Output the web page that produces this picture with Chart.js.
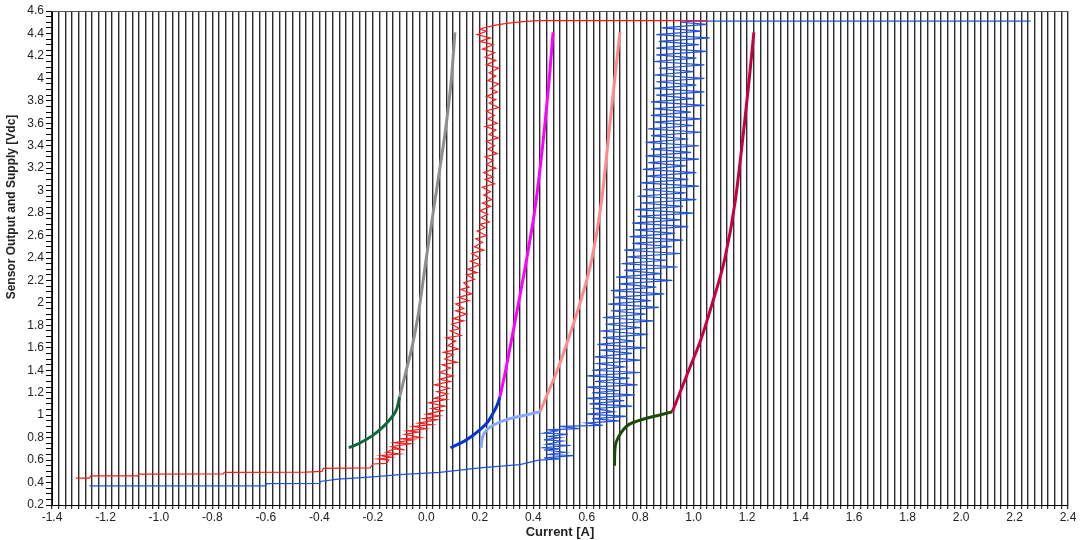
<!DOCTYPE html>
<html><head><meta charset="utf-8">
<script src="https://cdn.jsdelivr.net/npm/chart.js@4.4.1/dist/chart.umd.min.js"></script>
<style>html,body{margin:0;padding:0;background:#fff}#wrap{width:1081px;height:540px}</style>
</head><body><div id="wrap"><canvas id="c" width="1081" height="540"></canvas></div>
<script>
// X axis tick labels (Current [A]) and Y axis tick labels
const xTickLabels = ['-1.4','-1.2','-1.0','-0.8','-0.6','-0.4','-0.2','0.0','0.2','0.4','0.6','0.8','1.0','1.2','1.4','1.6','1.8','2.0','2.2','2.4'];
const yTickLabels = ['0.2','0.4','0.6','0.8','1','1.2','1.4','1.6','1.8','2','2.2','2.4','2.6','2.8','3','3.2','3.4','3.6','3.8','4','4.2','4.4','4.6'];
const xTitle = 'Current [A]';
const yTitle = 'Sensor Output and Supply [Vdc]';

// Long red trace [current, voltage]
const redTrace = [[-1.31,0.44],[-1.26,0.44],[-1.255,0.46],[-1.08,0.46],[-1.075,0.475],[-0.76,0.478],[-0.755,0.49],[-0.45,0.492],[-0.39,0.5],[-0.385,0.527],[-0.21,0.53],[-0.2,0.565],[-0.15,0.57],
[-0.14,0.6],[-0.18,0.61],[-0.13,0.625],[-0.17,0.64],[-0.1,0.655],[-0.15,0.67],[-0.12,0.7],[-0.08,0.69],[-0.13,0.72],[-0.06,0.745],[-0.12,0.755],[-0.05,0.78],[-0.1,0.79],[-0.02,0.8],[-0.08,0.83],[-0.03,0.85],[-0.07,0.86],[0.0,0.88],[-0.05,0.9],[0.02,0.915],[-0.03,0.93],[0.04,0.96],[-0.01,0.97],[0.05,0.995],[0.0,1.01],[0.06,1.04],[0.02,1.06],[0.07,1.08],[0.01,1.11],[0.075,1.14],[0.03,1.15],[0.08,1.19],[0.04,1.21],[0.085,1.24],[0.03,1.27],[0.09,1.3],[0.05,1.32],[0.1,1.35],[0.05,1.38],[0.09,1.42],[0.06,1.45],[0.115,1.47],[0.07,1.5],[0.1,1.54],[0.065,1.56],[0.12,1.59],[0.08,1.62],[0.11,1.66],[0.075,1.69],[0.13,1.71],[0.09,1.75],[0.125,1.77],[0.095,1.81],[0.14,1.84],[0.1,1.86],[0.15,1.9],[0.11,1.93],[0.14,1.95],[0.11,1.99],[0.16,2.02],[0.12,2.05],[0.17,2.08],[0.13,2.12],[0.16,2.14],[0.14,2.18],[0.18,2.21],[0.15,2.25],[0.19,2.27],[0.155,2.3],[0.2,2.34],[0.165,2.37],[0.2,2.4],[0.17,2.44],[0.215,2.47],[0.18,2.5],[0.21,2.54],[0.185,2.57],[0.225,2.6],[0.19,2.64],[0.22,2.67],[0.2,2.7],[0.235,2.72],[0.205,2.76],[0.23,2.79],[0.2,2.82],[0.24,2.86],[0.21,2.89],[0.245,2.92],[0.215,2.96],[0.24,2.99],[0.21,3.03],[0.255,3.06],[0.22,3.1],[0.25,3.12],[0.215,3.16],[0.26,3.2],[0.225,3.23],[0.25,3.27],[0.22,3.3],[0.265,3.33],[0.23,3.37],[0.255,3.4],[0.225,3.44],[0.27,3.47],[0.235,3.5],[0.26,3.54],[0.22,3.57],[0.265,3.6],[0.23,3.64],[0.255,3.67],[0.225,3.71],[0.27,3.74],[0.235,3.78],[0.26,3.81],[0.225,3.84],[0.265,3.88],[0.24,3.91],[0.27,3.95],[0.23,3.98],[0.26,4.02],[0.235,4.05],[0.27,4.09],[0.225,4.12],[0.26,4.16],[0.22,4.19],[0.255,4.23],[0.21,4.26],[0.25,4.3],[0.2,4.33],[0.24,4.36],[0.19,4.39],[0.225,4.42],[0.2,4.44],[0.25,4.47],[0.3,4.49],[0.36,4.505],[0.42,4.515],[1.05,4.515]];

// Long blue trace [current, voltage]
const blueTrace = [[-1.26,0.37],[-0.6,0.37],[-0.598,0.39],[-0.4,0.392],[-0.398,0.41],[-0.33,0.43],[-0.2,0.45],[-0.1,0.47],[0.05,0.49],[0.2,0.53],[0.35,0.56],[0.42,0.6],
[0.5,0.61],[0.44,0.62],[0.55,0.64],[0.45,0.65],[0.52,0.67],[0.44,0.69],[0.5,0.7],[0.43,0.71],[0.54,0.73],[0.45,0.74],[0.51,0.77],[0.44,0.78],[0.5,0.8],[0.45,0.81],[0.53,0.83],[0.44,0.84],[0.49,0.86],[0.45,0.87],[0.57,0.88],[0.5,0.9],[0.66,0.91],
[0.6,0.93],[0.72,0.95],[0.62,0.97],[0.75,0.99],[0.6,1.01],[0.7,1.03],[0.63,1.06],[0.77,1.08],[0.61,1.1],[0.74,1.13],[0.6,1.15],[0.78,1.18],[0.62,1.2],[0.72,1.22],[0.6,1.25],[0.79,1.27],[0.63,1.3],[0.76,1.33],[0.6,1.35],[0.8,1.38],[0.62,1.4],[0.74,1.43],[0.64,1.46],[0.8,1.49],[0.63,1.52],[0.77,1.55],[0.65,1.58],[0.82,1.6],[0.64,1.63],[0.78,1.66],[0.66,1.69],[0.83,1.72],[0.65,1.75],[0.8,1.78],[0.67,1.81],[0.85,1.84],[0.66,1.87],[0.82,1.9],[0.69,1.93],[0.87,1.96],[0.68,1.99],[0.84,2.02],[0.7,2.05],[0.89,2.08],[0.69,2.11],[0.86,2.14],[0.72,2.17],[0.92,2.2],[0.71,2.23],[0.88,2.26],[0.74,2.29],[0.94,2.32],[0.73,2.35],[0.9,2.38],[0.75,2.41],[0.95,2.44],[0.74,2.47],[0.92,2.5],[0.77,2.53],[0.96,2.56],[0.76,2.59],[0.93,2.62],[0.78,2.65],[0.98,2.68],[0.77,2.71],[0.95,2.74],[0.79,2.77],[1.0,2.8],[0.78,2.83],[0.96,2.86],[0.8,2.89],[1.01,2.92],[0.79,2.95],[0.97,2.98],[0.81,3.01],[1.02,3.04],[0.8,3.07],[0.98,3.1],[0.82,3.13],[1.01,3.16],[0.81,3.19],[0.97,3.22],[0.83,3.25],[1.02,3.28],[0.82,3.31],[0.99,3.34],[0.84,3.37],[1.02,3.4],[0.82,3.43],[0.98,3.46],[0.84,3.49],[1.03,3.52],[0.83,3.55],[1.0,3.58],[0.85,3.61],[1.03,3.64],[0.84,3.67],[0.99,3.7],[0.85,3.73],[1.04,3.76],[0.84,3.79],[1.0,3.82],[0.86,3.85],[1.04,3.88],[0.85,3.91],[1.01,3.94],[0.86,3.97],[1.04,4.0],[0.85,4.03],[1.0,4.06],[0.87,4.09],[1.04,4.12],[0.85,4.15],[1.01,4.18],[0.86,4.21],[1.05,4.24],[0.86,4.27],[1.02,4.3],[0.87,4.33],[1.06,4.36],[0.86,4.39],[1.03,4.42],[0.88,4.45],[1.05,4.48],[0.95,4.5],[1.0,4.51],[2.26,4.51]];

// Short smooth sensor curves [current, voltage]
const greenLow1 = [[-0.29,0.71],[-0.25,0.75],[-0.2,0.82],[-0.16,0.9],[-0.13,0.98],[-0.11,1.06],[-0.1,1.16]];
const grayUp = [[-0.1,1.16],[-0.075,1.4],[-0.054,1.6],[-0.03,1.9],[0.0,2.4],[0.038,3.0],[0.075,3.6],[0.094,4.0],[0.107,4.41]];
const blueLow = [[0.09,0.71],[0.15,0.78],[0.2,0.87],[0.23,0.94],[0.25,1.02],[0.265,1.09],[0.275,1.16]];
const magentaUp = [[0.275,1.16],[0.295,1.38],[0.313,1.6],[0.345,2.0],[0.376,2.4],[0.41,2.9],[0.444,3.6],[0.46,4.0],[0.474,4.41]];
const lightBlueLow = [[0.205,0.71],[0.208,0.78],[0.22,0.85],[0.25,0.91],[0.3,0.96],[0.36,0.995],[0.425,1.03]];
const salmonUp = [[0.425,1.03],[0.455,1.2],[0.49,1.4],[0.52,1.6],[0.575,2.0],[0.62,2.4],[0.655,2.9],[0.687,3.6],[0.705,4.0],[0.724,4.41]];
const greenLow2 = [[0.704,0.55],[0.705,0.68],[0.71,0.76],[0.73,0.85],[0.76,0.92],[0.82,0.97],[0.87,1.0],[0.92,1.03]];
const crimsonUp = [[0.92,1.03],[0.955,1.24],[0.99,1.45],[1.025,1.66],[1.07,2.0],[1.117,2.4],[1.155,2.9],[1.19,3.6],[1.208,4.0],[1.225,4.41]];

const toPts = a => a.map(p => ({x:p[0], y:p[1]}));
function smooth(data, color){ return {data: toPts(data), borderColor: color, borderWidth: 3, cubicInterpolationMode: 'monotone', pointRadius: 0, showLine: true, fill: false}; }
function jag(data, color){ return {data: toPts(data), borderColor: color, borderWidth: 1.2, tension: 0, pointRadius: 0, showLine: true, fill: false}; }

const frame = {id:'frame', afterDraw(ch){
  const a=ch.chartArea,c=ch.ctx;c.save();
  c.strokeStyle='#555';c.lineWidth=1;c.beginPath();c.moveTo(a.left,a.top+0.5);c.lineTo(a.right,a.top+0.5);c.stroke();
  c.fillStyle='#222';c.font='bold 12px "Liberation Sans"';c.textAlign='center';c.textBaseline='middle';
  c.translate(12,207);c.rotate(-Math.PI/2);c.fillText(yTitle,0,0);
  c.restore();}};

const isMult = (v, s) => Math.abs(v/s - Math.round(v/s)) < 1e-6;

new Chart(document.getElementById('c'), {
  type: 'scatter',
  data: { datasets: [
    smooth(greenLow1,'#0a6a38'), smooth(grayUp,'#8f8f8f'), smooth(blueLow,'#0535d0'), smooth(magentaUp,'#ff00ff'),
    smooth(lightBlueLow,'#86a8ff'), smooth(salmonUp,'#ff8a8a'), Object.assign(smooth(greenLow2,'#1d4a06'),{cubicInterpolationMode:'default',tension:0.35}), smooth(crimsonUp,'#c8003e'),
    jag(redTrace,'#ff1a1a'), jag(blueTrace,'#1f52dc')
  ]},
  options: {
    responsive: false, animation: false,
    layout: { padding: { top: 11, right: 13, left: 0, bottom: 0 } },
    plugins: { legend: { display: false }, tooltip: { enabled: false } },
    scales: {
      x: {
        type: 'linear', min: -1.4, max: 2.4,
        afterFit: s => { s.height = 35; },
        border: { color: '#000', width: 1 },
        grid: { color: 'rgba(20,20,20,0.9)', lineWidth: 1.4, tickLength: 4, tickColor: '#000', tickWidth: 1, drawTicks: true },
        ticks: { stepSize: 0.025, maxTicksLimit: 400, autoSkip: false, maxRotation: 0, padding: 1, color: '#222',
          font: { family: 'Liberation Sans', size: 12 },
          callback: v => isMult(v, 0.2) ? xTickLabels[Math.round((v + 1.4) / 0.2)] : '' },
        title: { display: true, text: xTitle, color: '#222', font: { family: 'Liberation Sans', size: 13, weight: 'bold' }, padding: { top: 0, bottom: 0 } }
      },
      y: {
        type: 'linear', min: 0.2, max: 4.6,
        afterFit: s => { s.width = 52; },
        border: { color: '#000', width: 1 },
        grid: { drawOnChartArea: false, tickLength: 6, tickColor: '#000' },
        ticks: { stepSize: 0.05, maxTicksLimit: 400, autoSkip: false, padding: 2, color: '#222',
          font: { family: 'Liberation Sans', size: 12 },
          callback: v => isMult(v, 0.2) ? yTickLabels[Math.round((v - 0.2) / 0.2)] : '' },
        title: { display: false }
      }
    }
  },
  plugins: [frame]
});
</script></body></html>
